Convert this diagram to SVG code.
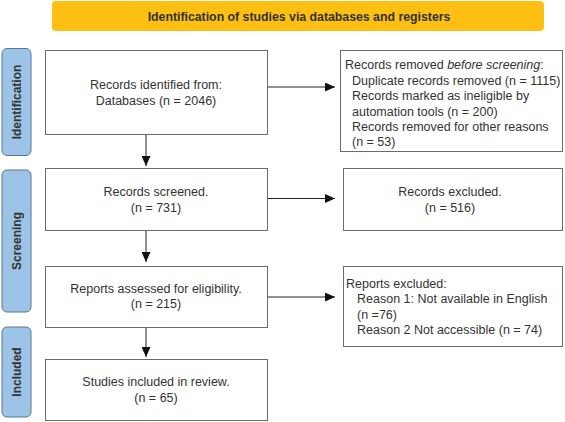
<svg xmlns="http://www.w3.org/2000/svg" width="565" height="422" viewBox="0 0 565 422">
<style>
.box{fill:#fff;stroke:#6b6b6b;stroke-width:1}
.side{fill:#9dc3e6;stroke:#56779c;stroke-width:1}
.t{font-family:"Liberation Sans",Arial,sans-serif;font-size:12.5px;fill:#333}
.c{text-anchor:middle}
.sl{font-family:"Liberation Sans",Arial,sans-serif;font-size:12px;font-weight:bold;fill:#333;text-anchor:middle}
.hd{font-family:"Liberation Sans",Arial,sans-serif;font-size:12.3px;font-weight:bold;fill:#333;text-anchor:middle}
.ln{stroke:#222;stroke-width:1;fill:none}
</style>
<defs>
<marker id="ah" markerWidth="11" markerHeight="9" refX="10" refY="4.5" orient="auto" markerUnits="userSpaceOnUse">
<path d="M0,0 L10,4.5 L0,9 Z" fill="#111"/>
</marker>
</defs>
<g id="header">
<rect x="52" y="1" width="492" height="30" rx="4" fill="#fdc012"/>
<text class="hd" x="299" y="20.5">Identification of studies via databases and registers</text>
</g>
<g id="side-identification">
<rect class="side" x="2" y="48.5" width="29" height="107" rx="5"/>
<text class="sl" transform="translate(20.5,102) rotate(-90)">Identification</text>
</g>
<g id="side-screening">
<rect class="side" x="2" y="170" width="29" height="142" rx="5"/>
<text class="sl" transform="translate(20.5,241) rotate(-90)">Screening</text>
</g>
<g id="side-included">
<rect class="side" x="2" y="327" width="29" height="90" rx="5"/>
<text class="sl" transform="translate(20.5,372) rotate(-90)">Included</text>
</g>
<g id="records-identified">
<rect class="box" x="45.5" y="50.5" width="222" height="84"/>
<text class="t c" x="156" y="89">Records identified from:</text>
<text class="t c" x="156" y="104.5">Databases (n = 2046)</text>
</g>
<g id="records-removed">
<rect class="box" x="340.5" y="50.5" width="222" height="101"/>
<text class="t" x="345" y="69">Records removed <tspan font-style="italic">before screening</tspan>:</text>
<text class="t" x="352" y="84.5">Duplicate records removed (n = 1115)</text>
<text class="t" x="352" y="100">Records marked as ineligible by</text>
<text class="t" x="352" y="115.5">automation tools (n = 200)</text>
<text class="t" x="352" y="131">Records removed for other reasons</text>
<text class="t" x="352" y="146">(n = 53)</text>
</g>
<g id="records-screened">
<rect class="box" x="45.5" y="168.5" width="222" height="62"/>
<text class="t c" x="156" y="196">Records screened.</text>
<text class="t c" x="156" y="211.5">(n = 731)</text>
</g>
<g id="records-excluded">
<rect class="box" x="343.5" y="168.5" width="219" height="62"/>
<text class="t c" x="450" y="196">Records excluded.</text>
<text class="t c" x="450" y="211.5">(n = 516)</text>
</g>
<g id="reports-assessed">
<rect class="box" x="45.5" y="266.5" width="222" height="61"/>
<text class="t c" x="156" y="292.5">Reports assessed for eligibility.</text>
<text class="t c" x="156" y="308">(n = 215)</text>
</g>
<g id="reports-excluded">
<rect class="box" x="343.5" y="266.5" width="219" height="80"/>
<text class="t" x="346" y="287.5">Reports excluded:</text>
<text class="t" x="357" y="303">Reason 1: Not available in English</text>
<text class="t" x="357" y="318.5">(n =76)</text>
<text class="t" x="357" y="334">Reason 2 Not accessible (n = 74)</text>
</g>
<g id="studies-included">
<rect class="box" x="45.5" y="359.5" width="222" height="61"/>
<text class="t c" x="156" y="386">Studies included in review.</text>
<text class="t c" x="156" y="401.5">(n = 65)</text>
</g>
<g id="connectors">
<line class="ln" x1="268" y1="87" x2="335" y2="87" stroke="#777" marker-end="url(#ah)"/>
<line class="ln" x1="146" y1="135" x2="146" y2="166" marker-end="url(#ah)"/>
<line class="ln" x1="268" y1="198.5" x2="335" y2="198.5" marker-end="url(#ah)"/>
<line class="ln" x1="146" y1="231" x2="146" y2="262" marker-end="url(#ah)"/>
<line class="ln" x1="268" y1="297" x2="335" y2="297" marker-end="url(#ah)"/>
<line class="ln" x1="146" y1="328" x2="146" y2="357" marker-end="url(#ah)"/>
</g>
</svg>
